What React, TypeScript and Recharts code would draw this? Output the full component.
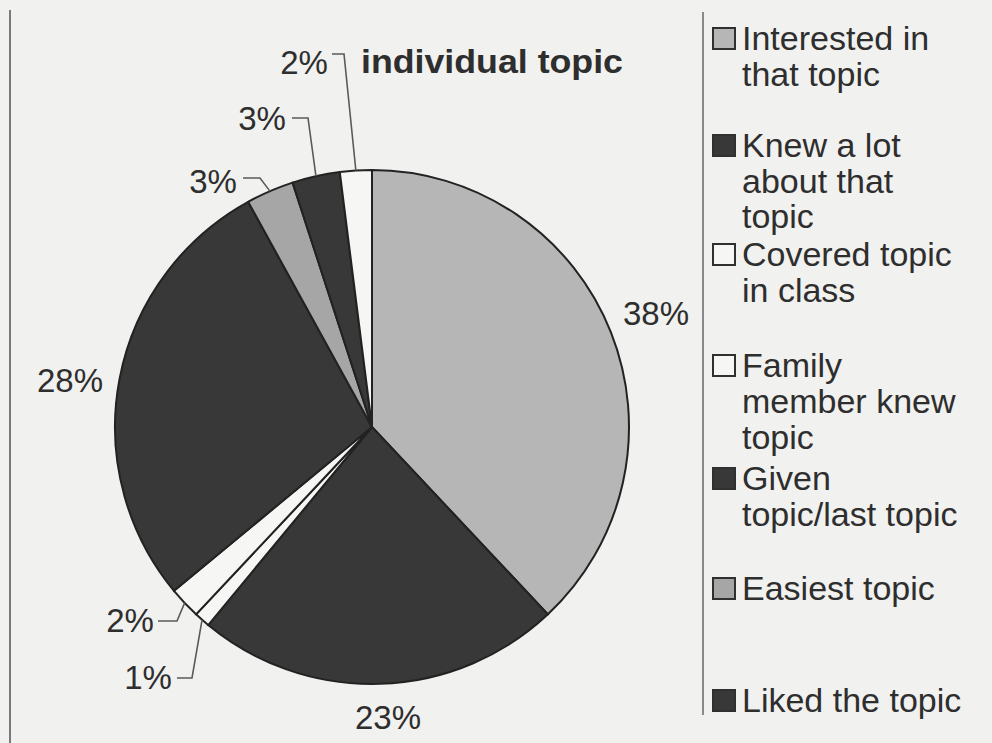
import { PieChart, Pie, Cell, Legend } from 'recharts';

const CATEGORIES = [
  'Interested in that topic',
  'Knew a lot about that topic',
  'Covered topic in class',
  'Family member knew topic',
  'Given topic/last topic',
  'Easiest topic',
  'Liked the topic',
  'individual topic',
];
const SHARES = [38, 23, 1, 2, 28, 3, 3, 2];
const SHARE_LABELS = ['38%', '23%', '1%', '2%', '28%', '3%', '3%', '2%'];
const LEGEND_LINES = [
  ['Interested in', 'that topic'],
  ['Knew a lot', 'about that', 'topic'],
  ['Covered topic', 'in class'],
  ['Family', 'member knew', 'topic'],
  ['Given', 'topic/last topic'],
  ['Easiest topic'],
  ['Liked the topic'],
];

const data = CATEGORIES.map((name, i) => ({ name, value: SHARES[i] }));

// styling / layout
const FILLS = ['#b6b6b6', '#383838', '#f6f6f4', '#f6f6f4', '#383838', '#a6a6a6', '#383838', '#f6f6f4'];
const INK = '#2e2e2e';
const FONT = '"Liberation Sans", Arial, sans-serif';
const LABEL_SPOTS = [
  { x: 656, y: 313 },
  { x: 388, y: 717 },
  { x: 148, y: 677, elbow: [[177, 678], [192, 678]] },
  { x: 130, y: 620, elbow: [[158, 621], [177, 621]] },
  { x: 70, y: 380 },
  { x: 213, y: 181, elbow: [[243, 178], [260, 178]] },
  { x: 262, y: 118, elbow: [[292, 118], [308, 118]] },
  { x: 304, y: 62, elbow: [[332, 54], [344, 54]] },
];
const LEGEND_BASE = [
  [50, 86],
  [157, 193, 228],
  [266, 302],
  [377, 413, 449],
  [490, 526],
  [600],
  [712],
];
const RADIAN = Math.PI / 180;

const renderLabel = (props: any) => {
  const { cx, cy, midAngle, outerRadius, index } = props;
  const spot = LABEL_SPOTS[index];
  const ex = cx + outerRadius * Math.cos(-midAngle * RADIAN);
  const ey = cy + outerRadius * Math.sin(-midAngle * RADIAN);
  return (
    <g key={`lbl-${index}`}>
      {spot.elbow && (
        <polyline
          points={[...spot.elbow, [ex, ey]].map((p) => p.join(',')).join(' ')}
          fill="none"
          stroke="#5a5a5a"
          strokeWidth={1.6}
        />
      )}
      <text
        x={spot.x}
        y={spot.y}
        textAnchor="middle"
        dominantBaseline="central"
        fontFamily={FONT}
        fontSize={33}
        fill={INK}
      >
        {SHARE_LABELS[index]}
      </text>
      {index === 7 && (
        <text x={361} y={73} fontFamily={FONT} fontSize={33} fontWeight="bold" fill={INK} textLength={262} lengthAdjust="spacingAndGlyphs">
          {CATEGORIES[7]}
        </text>
      )}
    </g>
  );
};

const LegendBox = () => (
  <svg width={287} height={743}>
    {LEGEND_LINES.map((lines, i) => {
      const rows = LEGEND_BASE[i];
      return (
        <g key={i}>
          <rect x={8} y={rows[0] - 22} width={22} height={21} fill={FILLS[i]} stroke="#303030" strokeWidth={2} />
          {lines.map((line, j) => (
            <text key={j} x={37} y={rows[j]} fontFamily={FONT} fontSize={34} fill={INK}>
              {line}
            </text>
          ))}
        </g>
      );
    })}
  </svg>
);

export default function App() {
  return (
    <div style={{ position: 'absolute', left: 0, top: 0, width: 992, height: 743, background: '#f1f1ef', overflow: 'hidden' }}>
      <div style={{ position: 'absolute', left: 9, top: 10, width: 2, height: 733, background: '#7a7a7a' }} />
      <div style={{ position: 'absolute', left: 702, top: 12, width: 2, height: 703, background: '#8a8a8a' }} />
      <PieChart width={992} height={743} margin={{ top: 0, right: 0, bottom: 0, left: 0 }}>
        <Pie
          data={data}
          dataKey="value"
          nameKey="name"
          cx={372}
          cy={427}
          outerRadius={257}
          startAngle={90}
          endAngle={-270}
          stroke="#222"
          strokeWidth={2}
          label={renderLabel}
          labelLine={false}
          isAnimationActive={false}
        >
          {data.map((d, i) => (
            <Cell key={d.name} fill={FILLS[i]} />
          ))}
        </Pie>
        <Legend
          content={LegendBox}
          wrapperStyle={{ position: 'absolute', left: 705, top: 0, width: 287, height: 743 }}
        />
      </PieChart>
    </div>
  );
}
